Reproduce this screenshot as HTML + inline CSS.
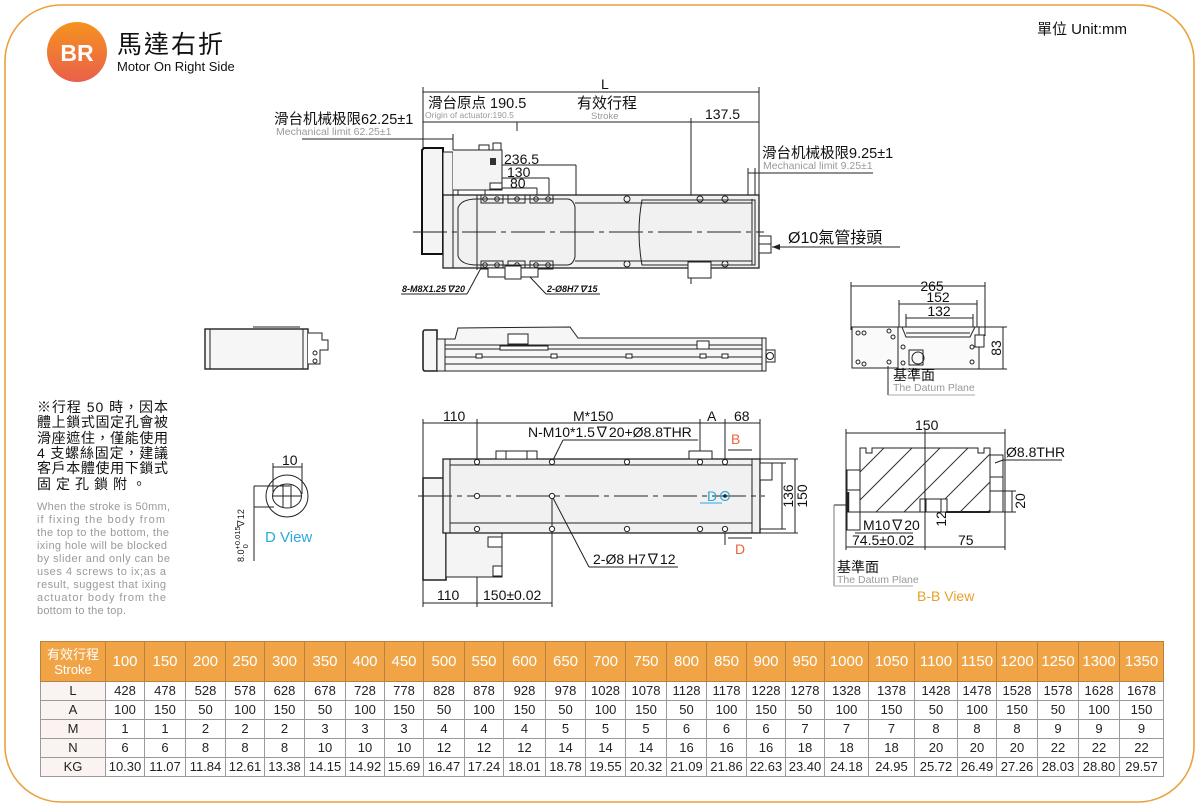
<!DOCTYPE html>
<html><head><meta charset="utf-8">
<style>
html,body{margin:0;padding:0;background:#fff;}
body{width:1200px;height:809px;position:relative;overflow:hidden;font-family:"Liberation Sans","Noto Sans CJK TC",sans-serif;}
table.spec{position:absolute;left:40px;top:641px;width:1123px;border-collapse:collapse;table-layout:fixed;font-family:"Liberation Sans","Noto Sans CJK TC",sans-serif;}
table.spec th{background:#f0a446;color:#fff;font-weight:normal;font-size:15px;height:39px;padding:0;border:1px solid #b98040;text-align:center;}
table.spec th.f{font-size:13px;line-height:15px;}
table.spec td{border:1px solid #9a9a9a;font-size:13px;color:#222;text-align:center;padding:0;height:18px;line-height:18px;}
table.spec td.f{background:#fbf3f1;}
</style></head>
<body>
<svg width="1200" height="809" viewBox="0 0 1200 809" style="position:absolute;left:0;top:0" font-family="Liberation Sans, Noto Sans CJK TC, sans-serif">
<defs>
<linearGradient id="g1" x1="0" y1="0" x2="0" y2="1"><stop offset="0" stop-color="#f5931f"/><stop offset="1" stop-color="#ea604a"/></linearGradient>
<clipPath id="hc"><rect x="860" y="448" width="130" height="64"/></clipPath>
</defs>
<!-- border -->
<rect x="5" y="5" width="1189" height="797" rx="56" fill="none" stroke="#eaa23c" stroke-width="1.6"/>
<!-- header -->
<circle cx="77" cy="52" r="30" fill="url(#g1)"/>
<text x="77" y="61" font-size="23" font-weight="bold" fill="#fff" text-anchor="middle">BR</text>
<text x="117" y="53" font-size="25" fill="#111" letter-spacing="2">馬達右折</text>
<text x="117" y="71" font-size="13" fill="#111">Motor On Right Side</text>
<text x="1037" y="34" font-size="15" fill="#111">單位 Unit:mm</text>

<!-- ============ TOP VIEW ============ -->
<g stroke="#222" stroke-width="1" fill="none">
<line x1="423" y1="87" x2="423" y2="148"/>
<line x1="759" y1="87" x2="759" y2="195"/>
<line x1="423" y1="92" x2="759" y2="92"/>
<line x1="423" y1="122" x2="759" y2="122"/>
<line x1="517" y1="122" x2="517" y2="131"/>
<line x1="691" y1="118" x2="691" y2="284"/>
<line x1="302" y1="139" x2="453" y2="139"/>
<line x1="453" y1="134" x2="453" y2="150"/>
<line x1="748" y1="173" x2="873" y2="173"/>
<line x1="748" y1="168" x2="748" y2="199"/>
<line x1="755" y1="168" x2="755" y2="199"/>
<line x1="458" y1="165" x2="576" y2="165"/>
<line x1="458" y1="165" x2="458" y2="205"/>
<line x1="576" y1="165" x2="576" y2="199"/>
<line x1="485" y1="178" x2="549" y2="178"/>
<line x1="485" y1="178" x2="485" y2="195"/>
<line x1="549" y1="178" x2="549" y2="195"/>
<line x1="497" y1="188" x2="537" y2="188"/>
<line x1="537" y1="188" x2="537" y2="195"/>
</g>
<!-- motor -->
<path d="M424,148 L443,148 L443,254 L422,254 L422,150 Z" fill="#f4f4f4" stroke="#111" stroke-width="2"/>
<rect x="443" y="152" width="10" height="116" fill="#f4f4f4" stroke="#222" stroke-width="1"/>
<path d="M453,150 L502,150 L502,190 L453,190" fill="#f4f4f4" stroke="#222" stroke-width="1"/>
<rect x="479" y="145" width="10" height="5" fill="#fff" stroke="#222"/>
<rect x="493" y="143" width="8" height="7" fill="#fff" stroke="#222"/>
<rect x="490" y="158" width="6" height="7" fill="#333"/>
<rect x="490" y="183" width="12" height="6" fill="#fff" stroke="#222"/>
<!-- body -->
<rect x="443" y="195" width="316" height="73" fill="#f1f1f1" stroke="#222" stroke-width="1.3"/>
<g stroke="#222" stroke-width="1" fill="none">
<line x1="453" y1="195" x2="453" y2="268"/>
<path d="M458,208 Q461,199 477,199 L567,199 Q573,199 575,207 L575,257 Q573,265 567,265 L477,265 Q461,265 458,256 Z"/>
<line x1="575" y1="203" x2="752" y2="203"/>
<line x1="575" y1="261" x2="752" y2="261"/>
<path d="M642,200 L755,200 L755,265 L642,265 Q636,232 642,200 Z"/>
<line x1="752" y1="199" x2="752" y2="265"/>
<line x1="477" y1="195" x2="477" y2="270"/>
<rect x="481" y="195" width="22" height="8"/><rect x="508" y="195" width="17" height="8"/><rect x="530" y="195" width="23" height="8"/>
<rect x="481" y="261" width="22" height="8"/><rect x="508" y="261" width="17" height="8"/><rect x="530" y="261" width="23" height="8"/>
<circle cx="485" cy="199" r="2.3"/><circle cx="497" cy="199" r="2.3"/><circle cx="517" cy="199" r="2.3"/><circle cx="536" cy="199" r="2.3"/><circle cx="548" cy="199" r="2.3"/>
<circle cx="485" cy="265" r="2.3"/><circle cx="497" cy="265" r="2.3"/><circle cx="517" cy="265" r="2.3"/><circle cx="536" cy="265" r="2.3"/><circle cx="548" cy="265" r="2.3"/>
<circle cx="627" cy="199" r="3"/><circle cx="700" cy="199" r="3"/><circle cx="725" cy="199" r="3"/>
<circle cx="627" cy="264" r="3"/><circle cx="700" cy="264" r="3"/><circle cx="725" cy="264" r="3"/>
<rect x="488" y="268" width="50" height="9" fill="#fff"/>
<rect x="505" y="266" width="16" height="13" fill="#fff"/>
<rect x="688" y="262" width="23" height="16" fill="#fff"/>
<rect x="759" y="236" width="12" height="17" fill="#fff"/>
<line x1="759" y1="244" x2="771" y2="244"/>
</g>
<line x1="413" y1="232" x2="764" y2="232" stroke="#222" stroke-width="1" stroke-dasharray="34 5 5 5"/>
<line x1="772" y1="247" x2="900" y2="247" stroke="#222"/>
<path d="M772,247 L780,244 L780,250 Z" fill="#222"/>
<!-- labels top -->
<text x="428" y="108" font-size="14.5" fill="#111">滑台原点 190.5</text>
<text x="425" y="118" font-size="8.5" fill="#999">Origin of actuator:190.5</text>
<text x="577" y="108" font-size="15" fill="#111">有效行程</text>
<text x="591" y="119" font-size="9.5" fill="#999">Stroke</text>
<text x="705" y="119" font-size="14" fill="#111">137.5</text>
<text x="601" y="89" font-size="14" fill="#111">L</text>
<text x="274" y="124" font-size="14.5" fill="#111">滑台机械极限62.25±1</text>
<text x="276" y="135" font-size="10.5" fill="#999">Mechanical limit 62.25±1</text>
<text x="762" y="158" font-size="14.5" fill="#111">滑台机械极限9.25±1</text>
<text x="763" y="169" font-size="10.5" fill="#999">Mechanical limit 9.25±1</text>
<text x="504" y="164" font-size="14" fill="#111">236.5</text>
<text x="507" y="177" font-size="14" fill="#111">130</text>
<text x="510" y="188" font-size="14" fill="#111">80</text>
<text x="788" y="243" font-size="16" fill="#111">Ø10氣管接頭</text>
<text x="402" y="292" font-size="9" font-weight="bold" font-style="italic" fill="#111">8-M8X1.25∇20</text>
<line x1="401" y1="294" x2="467" y2="294" stroke="#222"/>
<line x1="467" y1="294" x2="481" y2="268" stroke="#222"/>
<text x="547" y="292" font-size="9" font-weight="bold" font-style="italic" fill="#111">2-Ø8H7∇15</text>
<line x1="546" y1="294" x2="600" y2="294" stroke="#222"/>
<line x1="546" y1="294" x2="530" y2="277" stroke="#222"/>

<!-- ============ SIDE VIEWS ============ -->
<g stroke="#222" stroke-width="1" fill="#f6f6f6">
<rect x="205" y="329" width="103" height="40" stroke-width="1.4"/>
<line x1="210" y1="329" x2="210" y2="369"/><line x1="303" y1="329" x2="303" y2="369"/>
<line x1="253" y1="327" x2="300" y2="327"/>
<path d="M308,333 L322,333 L322,340 L328,340 L328,350 L320,350 L320,364 L308,364" fill="#fff"/>
<circle cx="315" cy="353" r="2" fill="none"/><circle cx="315" cy="361" r="2" fill="none"/>
<path d="M425,330 L437,330 L437,371 L425,371 Q423,371 423,368 L423,333 Q423,330 425,330 Z" stroke-width="1.6"/>
<path d="M455,339 L458,328 L570,327 L578,338 L766,338 L766,371 L437,371 L437,339 Z"/>
<line x1="445" y1="345" x2="762" y2="345"/><line x1="445" y1="349" x2="762" y2="349"/>
<line x1="445" y1="357" x2="762" y2="357"/><line x1="445" y1="364" x2="762" y2="364"/>
<line x1="445" y1="339" x2="445" y2="371"/><line x1="762" y1="338" x2="762" y2="371"/>
<rect x="508" y="334" width="20" height="10" fill="#fff"/>
<rect x="500" y="346" width="48" height="4" fill="#fff"/>
<rect x="697" y="341" width="12" height="8" fill="#fff"/>
<rect x="476" y="354" width="6" height="4" fill="#fff"/><rect x="551" y="354" width="6" height="4" fill="#fff"/>
<rect x="626" y="354" width="6" height="4" fill="#fff"/><rect x="700" y="354" width="6" height="4" fill="#fff"/><rect x="722" y="354" width="6" height="4" fill="#fff"/>
<rect x="766" y="350" width="9" height="12" fill="#fff"/>
<circle cx="770" cy="356" r="3.5" fill="none"/>
</g>

<!-- ============ END VIEW ============ -->
<g stroke="#222" stroke-width="1" fill="none">
<line x1="851" y1="286" x2="985" y2="286"/>
<line x1="851" y1="282" x2="851" y2="330"/><line x1="985" y1="282" x2="985" y2="336"/>
<line x1="899" y1="304" x2="977" y2="304"/>
<line x1="899" y1="300" x2="899" y2="330"/><line x1="977" y1="300" x2="977" y2="330"/>
<line x1="906" y1="318" x2="973" y2="318"/>
<line x1="906" y1="314" x2="906" y2="330"/><line x1="973" y1="314" x2="973" y2="330"/>
<rect x="852" y="327" width="46" height="41" fill="#fafafa"/>
<path d="M898,327 L979,327 L979,369 L898,369 Z" fill="#fafafa"/>
<path d="M902,327 L906,337 L970,337 L975,327"/>
<line x1="906" y1="333" x2="970" y2="333"/>
<rect x="975" y="335" width="9" height="12" fill="#fff"/>
<rect x="909" y="350" width="14" height="15"/>
<circle cx="918" cy="358" r="6"/>
<circle cx="858" cy="333" r="2"/><circle cx="864" cy="333" r="2"/><circle cx="889" cy="331" r="2"/><circle cx="893" cy="337" r="2"/>
<circle cx="858" cy="362" r="2"/><circle cx="864" cy="364" r="2"/><circle cx="889" cy="362" r="2"/>
<circle cx="903" cy="347" r="2"/><circle cx="972" cy="347" r="2"/><circle cx="972" cy="362" r="2"/><circle cx="903" cy="363" r="2"/>
<line x1="979" y1="327" x2="1007" y2="327"/><line x1="979" y1="369" x2="1007" y2="369"/>
<line x1="1003" y1="327" x2="1003" y2="369"/>
<line x1="888" y1="366" x2="888" y2="395"/>
<line x1="888" y1="395" x2="975" y2="395" stroke="#aaa"/>
</g>
<text x="932" y="291" font-size="14" fill="#111" text-anchor="middle">265</text>
<text x="938" y="302" font-size="14" fill="#111" text-anchor="middle">152</text>
<text x="939" y="316" font-size="14" fill="#111" text-anchor="middle">132</text>
<text transform="translate(1001,348) rotate(-90)" font-size="14" fill="#111" text-anchor="middle">83</text>
<text x="893" y="380" font-size="14" fill="#111">基準面</text>
<text x="893" y="391" font-size="10.5" fill="#999">The Datum Plane</text>

<!-- ============ NOTES ============ -->
<g font-size="14" fill="#111">
<text x="37" y="412" textLength="131" lengthAdjust="spacing">※行程 50 時，因本</text>
<text x="37" y="427" textLength="131" lengthAdjust="spacing">體上鎖式固定孔會被</text>
<text x="37" y="443" textLength="131" lengthAdjust="spacing">滑座遮住，僅能使用</text>
<text x="37" y="458" textLength="131" lengthAdjust="spacing">4 支螺絲固定，建議</text>
<text x="37" y="473" textLength="131" lengthAdjust="spacing">客戶本體使用下鎖式</text>
<text x="37" y="489" textLength="109" lengthAdjust="spacing">固定孔鎖附。</text>
</g>
<g font-size="11" fill="#9a9a9a">
<text x="37" y="510" textLength="133" lengthAdjust="spacing">When the stroke is 50mm,</text>
<text x="37" y="523" textLength="128" lengthAdjust="spacing">if fixing the body from</text>
<text x="37" y="536" textLength="132" lengthAdjust="spacing">the top to the bottom, the</text>
<text x="37" y="549" textLength="130" lengthAdjust="spacing">ixing hole will be blocked</text>
<text x="37" y="562" textLength="133" lengthAdjust="spacing">by slider and only can be</text>
<text x="37" y="575" textLength="129" lengthAdjust="spacing">uses 4 screws to ix;as a</text>
<text x="37" y="588" textLength="129" lengthAdjust="spacing">result, suggest that ixing</text>
<text x="37" y="601" textLength="129" lengthAdjust="spacing">actuator body from the</text>
<text x="37" y="614" textLength="89" lengthAdjust="spacing">bottom to the top.</text>
</g>

<!-- ============ D VIEW ============ -->
<g stroke="#222" stroke-width="1" fill="none">
<circle cx="287" cy="496" r="21"/>
<ellipse cx="287" cy="496" rx="14.5" ry="12"/>
<line x1="273" y1="496" x2="302" y2="496"/>
<line x1="283" y1="484" x2="283" y2="508"/><line x1="291" y1="484" x2="291" y2="508"/>
<line x1="273" y1="467" x2="302" y2="467"/>
<line x1="273" y1="463" x2="273" y2="494"/><line x1="302" y1="463" x2="302" y2="494"/>
<line x1="254" y1="486" x2="290" y2="486"/><line x1="254" y1="507" x2="274" y2="507"/>
<line x1="254" y1="486" x2="254" y2="561"/>
</g>
<text x="282" y="465" font-size="14" fill="#111">10</text>
<text transform="translate(244,562) rotate(-90)" font-size="9" fill="#111">8.0<tspan dy="-4" font-size="7.5">+0.015</tspan><tspan dx="-22" dy="8" font-size="7.5">0</tspan><tspan dx="16" dy="-4" font-size="9">∇12</tspan></text>
<text x="265" y="542" font-size="15" fill="#2ba8df">D View</text>

<!-- ============ PLAN VIEW ============ -->
<g stroke="#222" stroke-width="1" fill="none">
<line x1="423" y1="423" x2="760" y2="423"/>
<line x1="423" y1="419" x2="423" y2="478"/>
<line x1="477" y1="419" x2="477" y2="607"/>
<line x1="700" y1="419" x2="700" y2="455"/>
<line x1="725" y1="419" x2="725" y2="545"/>
<line x1="760" y1="419" x2="760" y2="460"/>
<path d="M423,478 L446,478 L446,580 L423,580 Z" fill="#f4f4f4" stroke-width="1.6"/>
<path d="M446,533 L502,533 L502,577 L446,577 Z" fill="#f4f4f4"/>
<rect x="488" y="537" width="14" height="10" fill="#fff"/><rect x="493" y="566" width="9" height="10" fill="#fff"/>
<rect x="443" y="459" width="317" height="74" fill="#f1f1f1" stroke-width="1.3"/>
<line x1="450" y1="459" x2="450" y2="533"/>
<line x1="450" y1="465" x2="752" y2="465"/>
<line x1="450" y1="523" x2="752" y2="523"/>
<line x1="752" y1="459" x2="752" y2="533"/>
<rect x="496" y="451" width="41" height="8" fill="#fff"/>
<line x1="506" y1="451" x2="506" y2="459"/><line x1="527" y1="451" x2="527" y2="459"/>
<rect x="689" y="451" width="23" height="8" fill="#fff"/>
<rect x="760" y="463" width="12" height="17" fill="#fff"/>
<line x1="760" y1="459" x2="798" y2="459"/><line x1="760" y1="533" x2="798" y2="533"/>
<line x1="772" y1="463" x2="786" y2="463"/><line x1="760" y1="529" x2="786" y2="529"/>
<line x1="782" y1="463" x2="782" y2="529"/>
<line x1="795" y1="459" x2="795" y2="533"/>
<line x1="423" y1="580" x2="423" y2="607"/>
<line x1="552" y1="496" x2="552" y2="607"/>
<line x1="423" y1="603" x2="552" y2="603"/>
<line x1="552" y1="462" x2="563" y2="440"/>
<line x1="563" y1="440" x2="698" y2="440"/>
<line x1="552" y1="496" x2="589" y2="567"/>
<line x1="589" y1="567" x2="678" y2="567"/>
<line x1="728" y1="450" x2="752" y2="450"/>
<line x1="728" y1="538" x2="752" y2="538"/>
<line x1="700" y1="503" x2="722" y2="503" stroke="#2ba8df"/>
</g>
<line x1="418" y1="496" x2="765" y2="496" stroke="#222" stroke-dasharray="34 5 5 5"/>
<g stroke="#222" stroke-width="1" fill="#fff">
<circle cx="477" cy="462" r="2.6"/><circle cx="552" cy="462" r="2.6"/><circle cx="627" cy="462" r="2.6"/><circle cx="700" cy="462" r="2.6"/><circle cx="725" cy="462" r="2.6"/>
<circle cx="477" cy="496" r="2.6"/><circle cx="552" cy="496" r="2.6"/>
<circle cx="477" cy="529" r="2.6"/><circle cx="552" cy="529" r="2.6"/><circle cx="627" cy="529" r="2.6"/><circle cx="700" cy="529" r="2.6"/><circle cx="725" cy="529" r="2.6"/>
</g>
<circle cx="725" cy="496" r="4.5" fill="none" stroke="#2ba8df" stroke-width="1.2"/>
<circle cx="725" cy="496" r="1.8" fill="#222"/>
<text x="443" y="421" font-size="14" fill="#111">110</text>
<text x="573" y="421" font-size="14" fill="#111">M*150</text>
<text x="707" y="421" font-size="14" fill="#111">A</text>
<text x="734" y="421" font-size="14" fill="#111">68</text>
<text x="528" y="437" font-size="14" fill="#111">N-M10*1.5∇20+Ø8.8THR</text>
<text x="731" y="444" font-size="14" fill="#e8643e">B</text>
<text x="735" y="554" font-size="14" fill="#e8643e">D</text>
<text x="707" y="501" font-size="14" fill="#2ba8df">D</text>
<text transform="translate(793,496) rotate(-90)" font-size="14" fill="#111" text-anchor="middle">136</text>
<text transform="translate(807,496) rotate(-90)" font-size="14" fill="#111" text-anchor="middle">150</text>
<text x="593" y="564" font-size="14" fill="#111">2-Ø8 H7∇12</text>
<text x="437" y="600" font-size="14" fill="#111">110</text>
<text x="483" y="600" font-size="14" fill="#111">150±0.02</text>

<!-- ============ B-B VIEW ============ -->
<g stroke="#222" stroke-width="1" fill="none">
<line x1="846" y1="433" x2="1005" y2="433"/>
<line x1="846" y1="429" x2="846" y2="550"/><line x1="1005" y1="429" x2="1005" y2="550"/>
<path d="M860,448 L866,448 L866,453 L872,453 L872,448 L978,448 L978,453 L984,453 L984,448 L990,448 L990,512 L860,512 Z" fill="#fff"/>
<g clip-path="url(#hc)" stroke="#333">
<line x1="820" y1="512" x2="884" y2="448"/><line x1="848" y1="512" x2="912" y2="448"/>
<line x1="876" y1="512" x2="940" y2="448"/><line x1="904" y1="512" x2="968" y2="448"/>
<line x1="932" y1="512" x2="996" y2="448"/><line x1="960" y1="512" x2="1024" y2="448"/>
<line x1="988" y1="512" x2="1052" y2="448"/>
</g>
<rect x="920" y="499" width="27" height="13" fill="#fff"/>
<line x1="926" y1="499" x2="926" y2="512"/><line x1="941" y1="499" x2="941" y2="512"/>
<path d="M847,470 L860,470 L860,530 L847,530 Z" fill="#fff"/>
<line x1="847" y1="490" x2="860" y2="490"/>
<line x1="848" y1="492" x2="848" y2="512" stroke-width="2.5"/>
<path d="M990,455 L1003,455 L1003,512 L990,512 Z" fill="#fff"/>
<line x1="990" y1="477" x2="1003" y2="477"/>
<line x1="990" y1="491" x2="1003" y2="491"/>
<line x1="946" y1="512" x2="990" y2="512" stroke-width="2"/>
<line x1="846" y1="512" x2="1005" y2="512"/>
<line x1="1003" y1="491" x2="1016" y2="491"/><line x1="1003" y1="512" x2="1016" y2="512"/>
<line x1="1012" y1="491" x2="1012" y2="512"/>
<line x1="925" y1="429" x2="925" y2="550"/>
<line x1="846" y1="547" x2="1005" y2="547"/>
<line x1="855" y1="533" x2="913" y2="533"/>
<line x1="1003" y1="460" x2="1062" y2="460"/>
<line x1="995" y1="463" x2="1003" y2="460"/>
<line x1="834" y1="505" x2="846" y2="505"/>
<line x1="834" y1="505" x2="834" y2="586" stroke="#777"/>
<line x1="834" y1="586" x2="913" y2="586" stroke="#aaa"/>
</g>
<text x="915" y="430" font-size="14" fill="#111">150</text>
<text x="1006" y="457" font-size="14" fill="#111">Ø8.8THR</text>
<text transform="translate(1025,501) rotate(-90)" font-size="14" fill="#111" text-anchor="middle">20</text>
<text transform="translate(946,519) rotate(-90)" font-size="14" fill="#111" text-anchor="middle">12</text>
<text x="863" y="530" font-size="14" fill="#111">M10∇20</text>
<text x="852" y="545" font-size="14" fill="#111">74.5±0.02</text>
<text x="958" y="545" font-size="14" fill="#111">75</text>
<text x="837" y="572" font-size="14" fill="#111">基準面</text>
<text x="837" y="583" font-size="10.5" fill="#999">The Datum Plane</text>
<text x="917" y="601" font-size="14" fill="#e8a02a">B-B View</text>
</svg>

<table class="spec">
<colgroup>
<col style="width:65px"><col style="width:39px"><col style="width:41px"><col style="width:40px"><col style="width:39px"><col style="width:40px"><col style="width:41px"><col style="width:39px"><col style="width:39px"><col style="width:41px"><col style="width:39px"><col style="width:42px"><col style="width:40px"><col style="width:40px"><col style="width:41px"><col style="width:40px"><col style="width:40px"><col style="width:39px"><col style="width:39px"><col style="width:44px"><col style="width:46px"><col style="width:43px"><col style="width:39px"><col style="width:41px"><col style="width:41px"><col style="width:41px"><col style="width:44px">
</colgroup>
<tr><th class="f">有效行程<br>Stroke</th><th>100</th><th>150</th><th>200</th><th>250</th><th>300</th><th>350</th><th>400</th><th>450</th><th>500</th><th>550</th><th>600</th><th>650</th><th>700</th><th>750</th><th>800</th><th>850</th><th>900</th><th>950</th><th>1000</th><th>1050</th><th>1100</th><th>1150</th><th>1200</th><th>1250</th><th>1300</th><th>1350</th></tr>
<tr><td class="f">L</td><td>428</td><td>478</td><td>528</td><td>578</td><td>628</td><td>678</td><td>728</td><td>778</td><td>828</td><td>878</td><td>928</td><td>978</td><td>1028</td><td>1078</td><td>1128</td><td>1178</td><td>1228</td><td>1278</td><td>1328</td><td>1378</td><td>1428</td><td>1478</td><td>1528</td><td>1578</td><td>1628</td><td>1678</td></tr>
<tr><td class="f">A</td><td>100</td><td>150</td><td>50</td><td>100</td><td>150</td><td>50</td><td>100</td><td>150</td><td>50</td><td>100</td><td>150</td><td>50</td><td>100</td><td>150</td><td>50</td><td>100</td><td>150</td><td>50</td><td>100</td><td>150</td><td>50</td><td>100</td><td>150</td><td>50</td><td>100</td><td>150</td></tr>
<tr><td class="f">M</td><td>1</td><td>1</td><td>2</td><td>2</td><td>2</td><td>3</td><td>3</td><td>3</td><td>4</td><td>4</td><td>4</td><td>5</td><td>5</td><td>5</td><td>6</td><td>6</td><td>6</td><td>7</td><td>7</td><td>7</td><td>8</td><td>8</td><td>8</td><td>9</td><td>9</td><td>9</td></tr>
<tr><td class="f">N</td><td>6</td><td>6</td><td>8</td><td>8</td><td>8</td><td>10</td><td>10</td><td>10</td><td>12</td><td>12</td><td>12</td><td>14</td><td>14</td><td>14</td><td>16</td><td>16</td><td>16</td><td>18</td><td>18</td><td>18</td><td>20</td><td>20</td><td>20</td><td>22</td><td>22</td><td>22</td></tr>
<tr><td class="f">KG</td><td>10.30</td><td>11.07</td><td>11.84</td><td>12.61</td><td>13.38</td><td>14.15</td><td>14.92</td><td>15.69</td><td>16.47</td><td>17.24</td><td>18.01</td><td>18.78</td><td>19.55</td><td>20.32</td><td>21.09</td><td>21.86</td><td>22.63</td><td>23.40</td><td>24.18</td><td>24.95</td><td>25.72</td><td>26.49</td><td>27.26</td><td>28.03</td><td>28.80</td><td>29.57</td></tr>
</table>
</body></html>
